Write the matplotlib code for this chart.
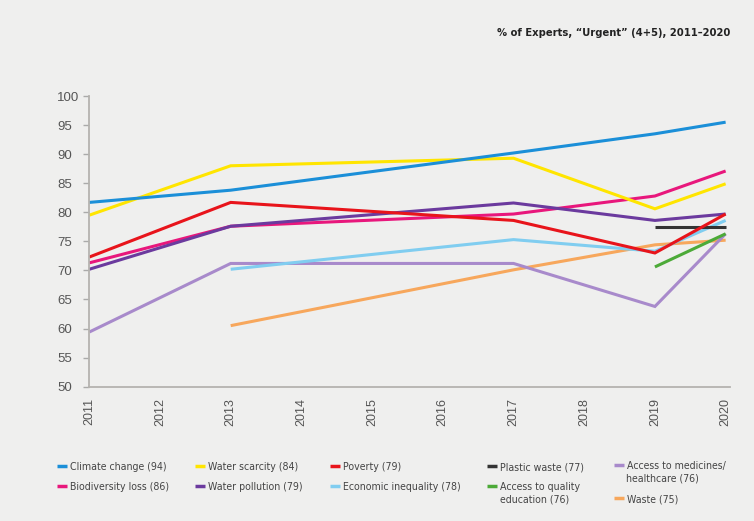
import matplotlib
matplotlib.use("Agg")
import matplotlib.pyplot as plt
from matplotlib import font_manager
from matplotlib.font_manager import FontProperties

# ---- data ----
years_all = [2011, 2012, 2013, 2014, 2015, 2016, 2017, 2018, 2019, 2020]

climate_x = [2011, 2013, 2017, 2019, 2020]
climate_y = [81.7, 83.8, 90.2, 93.5, 95.5]

water_scarcity_x = [2011, 2013, 2017, 2019, 2020]
water_scarcity_y = [79.5, 88.0, 89.3, 80.6, 84.9]

poverty_x = [2011, 2013, 2017, 2019, 2020]
poverty_y = [72.3, 81.7, 78.6, 73.0, 79.7]

plastic_x = [2019, 2020]
plastic_y = [77.5, 77.5]

medicines_x = [2011, 2013, 2017, 2019, 2020]
medicines_y = [59.4, 71.2, 71.2, 63.8, 76.3]

biodiversity_x = [2011, 2013, 2017, 2019, 2020]
biodiversity_y = [71.3, 77.6, 79.7, 82.8, 87.1]

water_pollution_x = [2011, 2013, 2017, 2019, 2020]
water_pollution_y = [70.2, 77.6, 81.6, 78.6, 79.7]

inequality_x = [2013, 2017, 2019, 2020]
inequality_y = [70.2, 75.3, 73.3, 78.6]

education_x = [2019, 2020]
education_y = [70.6, 76.3]

waste_x = [2013, 2017, 2019, 2020]
waste_y = [60.5, 70.1, 74.4, 75.2]

label_first = ["Climate change (94)", "Biodiversity loss (86)",
               "Water scarcity (84)", "Water pollution (79)",
               "Poverty (79)", "Economic inequality (78)",
               "Plastic waste (77)", "Access to quality",
               "Access to medicines/", "Waste (75)"]
label_second = ["", "", "", "", "", "", "", "education (76)",
                "healthcare (76)", ""]

colors = ["#1b8fd8", "#e8177c", "#ffe500", "#6b3a9e", "#e8141b",
          "#80cdf0", "#333333", "#4caa38", "#a88acb", "#f7a75c"]

series_x = [climate_x, biodiversity_x, water_scarcity_x, water_pollution_x,
            poverty_x, inequality_x, plastic_x, education_x, medicines_x,
            waste_x]
series_y = [climate_y, biodiversity_y, water_scarcity_y, water_pollution_y,
            poverty_y, inequality_y, plastic_y, education_y, medicines_y,
            waste_y]

title = "% of Experts, \u201cUrgent\u201d (4+5), 2011\u20132020"

# legend layout (pixels in a 754x521 picture): handle left x, row centre y
leg_x = [57, 57, 195, 195, 330, 330, 487, 487, 614, 614]
leg_y = [467, 487, 467, 487, 467, 487, 467, 487, 466, 499]

# ---- fonts: prefer a condensed sans ----
def pick(bold=False):
    cands = []
    for f in font_manager.fontManager.ttflist:
        fn = f.fname.lower()
        isb = f.weight in ("bold", 700, 600, "semibold", "demibold")
        if ("narrow" in fn or "condensed" in fn or f.stretch in ("condensed", "semi-condensed")) \
                and "mono" not in fn and "serif" not in fn and "oblique" not in fn \
                and "italic" not in fn:
            if isb == bold:
                cands.append(f)
    pref = ["liberation", "dejavu", "roboto", "open", "noto"]
    for p in pref:
        for f in cands:
            if p in f.fname.lower():
                return FontProperties(fname=f.fname)
    if cands:
        return FontProperties(fname=cands[0].fname)
    return FontProperties(family="Roboto", weight="bold" if bold else "normal")

fp_reg = pick(False)
fp_bold = pick(True)
tickfont = "Liberation Sans"

bg = "#efefee"
W, H = 754, 521
fig = plt.figure(figsize=(7.54, 5.21), dpi=100, facecolor=bg)
ax = fig.add_axes([0.1184, 0.2578, 0.968 - 0.1184, 0.8157 - 0.2578])
ax.set_facecolor(bg)

draw_order = [9, 8, 5, 7, 6, 1, 3, 4, 2, 0]
handles = [None] * len(colors)
for i in draw_order:
    (h,) = ax.plot(series_x[i], series_y[i], color=colors[i], lw=2.2,
                   solid_capstyle="butt", solid_joinstyle="miter")
    handles[i] = h

ax.set_xlim(2011, 2020.06)
ax.set_ylim(50, 100)
ax.set_yticks(range(50, 101, 5))
ax.set_xticks(years_all)
ax.set_xticklabels([str(y) for y in years_all], rotation=90,
                   family=tickfont, fontsize=9, color="#555555")
for t in ax.get_yticklabels():
    t.set_family(tickfont)
    t.set_fontsize(9.5)
    t.set_color("#555555")
    t.set_horizontalalignment("left")
ax.tick_params(axis="x", length=0, pad=8)
ax.tick_params(axis="y", length=4, width=1, color="#aaaaaa", pad=19.3)
for s in ["top", "right"]:
    ax.spines[s].set_visible(False)
for s in ["left", "bottom"]:
    ax.spines[s].set_color("#b5b3af")
    ax.spines[s].set_linewidth(1.3)

tp = fp_bold.copy()
tp.set_size(8)
fig.text(730 / W, 1 - 33 / H, title, ha="right", va="center",
         fontproperties=tp, color="#222222")

lp = fp_reg.copy()
lp.set_size(7.6)
for i in range(len(colors)):
    leg = fig.legend([handles[i]], [label_first[i]], loc="center left",
                     bbox_to_anchor=(leg_x[i] / W, 1 - leg_y[i] / H),
                     frameon=False, prop=lp, handlelength=0.95,
                     handletextpad=0.3, borderaxespad=0, borderpad=0)
    for t in leg.get_texts():
        t.set_color("#444444")
    for lh in leg.legend_handles:
        lh.set_linewidth(2.5)
    if label_second[i]:
        fig.text((leg_x[i] + 12.5) / W, 1 - (leg_y[i] + 12.5) / H,
                 label_second[i], ha="left", va="center",
                 fontproperties=lp, color="#444444")

fig.savefig("out.png", dpi=100, facecolor=bg)
